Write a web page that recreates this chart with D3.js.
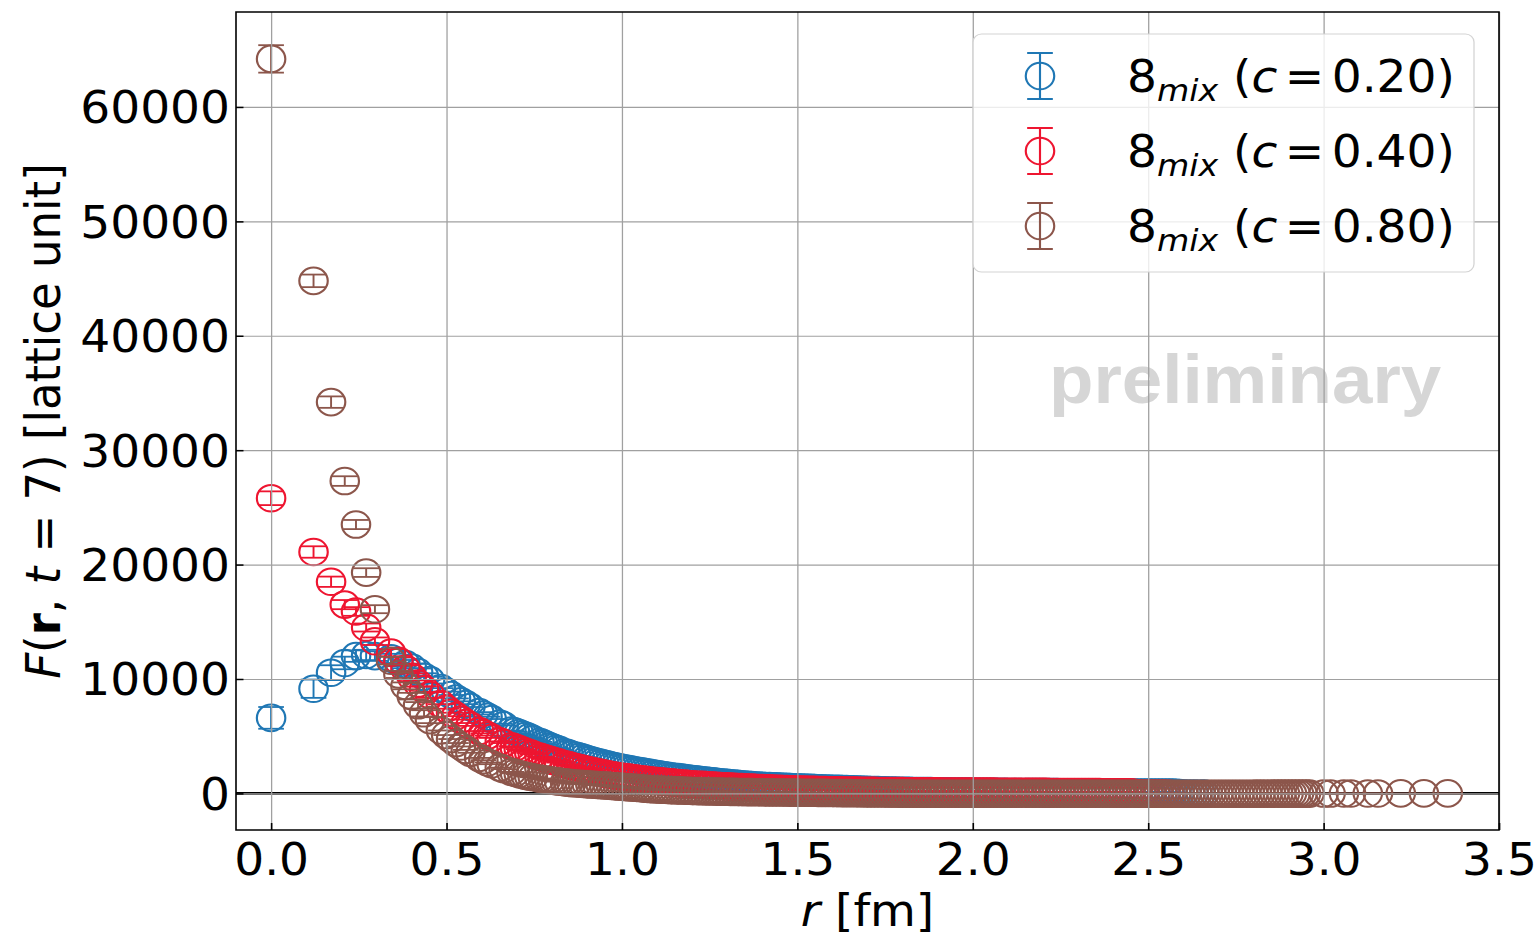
<!DOCTYPE html>
<html>
<head>
<meta charset="utf-8">
<title>F(r, t=7) - 8mix</title>
<script src="https://d3js.org/d3.v7.min.js"></script>
<style>
  body { margin: 0; background: #fff; }
  svg text { font-family: "DejaVu Sans", sans-serif; }
</style>
</head>
<body>
<script>
// r [fm] of the first lattice shells, then the dense band, then the last shells
const rShells = [0, 0.121, 0.171, 0.210, 0.242, 0.271, 0.296,
  0.342, 0.363, 0.383, 0.401, 0.419, 0.436, 0.453,
  0.484, 0.499, 0.513, 0.527, 0.541, 0.555, 0.568,
  0.593, 0.605, 0.617, 0.629, 0.652, 0.663,
  0.685, 0.695, 0.706, 0.716, 0.726, 0.736, 0.746,
  0.765, 0.775, 0.784, 0.794, 0.803, 0.812, 0.821,
  0.838, 0.847, 0.856];
const rBand = [
  0.87, 0.88, 0.89, 0.90, 0.91, 0.92, 0.93, 0.94, 0.95, 0.96,
  0.97, 0.98, 0.99, 1.00, 1.01, 1.02, 1.03, 1.04, 1.05, 1.06,
  1.07, 1.08, 1.09, 1.10, 1.11, 1.12, 1.13, 1.14, 1.15, 1.16,
  1.17, 1.18, 1.19, 1.20, 1.21, 1.22, 1.23, 1.24, 1.25, 1.26,
  1.27, 1.28, 1.29, 1.30, 1.31, 1.32, 1.33, 1.34, 1.35, 1.36,
  1.37, 1.38, 1.39, 1.40, 1.41, 1.42, 1.43, 1.44, 1.45, 1.46,
  1.47, 1.48, 1.49, 1.50, 1.51, 1.52, 1.53, 1.54, 1.55, 1.56,
  1.57, 1.58, 1.59, 1.60, 1.61, 1.62, 1.63, 1.64, 1.65, 1.66,
  1.67, 1.68, 1.69, 1.70, 1.71, 1.72, 1.73, 1.74, 1.75, 1.76,
  1.77, 1.78, 1.79, 1.80, 1.81, 1.82, 1.83, 1.84, 1.85, 1.86,
  1.87, 1.88, 1.89, 1.90, 1.91, 1.92, 1.93, 1.94, 1.95, 1.96,
  1.97, 1.98, 1.99, 2.00, 2.01, 2.02, 2.03, 2.04, 2.05, 2.06,
  2.07, 2.08, 2.09, 2.10, 2.11, 2.12, 2.13, 2.14, 2.15, 2.16,
  2.17, 2.18, 2.19, 2.20, 2.21, 2.22, 2.23, 2.24, 2.25, 2.26,
  2.27, 2.28, 2.29, 2.30, 2.31, 2.32, 2.33, 2.34, 2.35, 2.36,
  2.37, 2.38, 2.39, 2.40, 2.41, 2.42, 2.43, 2.44, 2.45, 2.46,
  2.47, 2.48, 2.49, 2.50, 2.51, 2.52, 2.53, 2.54, 2.55, 2.56,
  2.57, 2.58, 2.59, 2.60, 2.61, 2.62, 2.63, 2.64, 2.65, 2.66,
  2.67, 2.68, 2.69, 2.70, 2.71, 2.72, 2.73, 2.74, 2.75, 2.76,
  2.77, 2.78, 2.79, 2.80, 2.81, 2.82, 2.83, 2.84, 2.85, 2.86,
  2.87, 2.88, 2.89, 2.90, 2.91, 2.92, 2.93, 2.94, 2.95, 2.96];
const rTail = [3.00, 3.02, 3.058, 3.078, 3.126, 3.155, 3.22, 3.286, 3.354];

// c = 0.20
const blueShells = [6600, 9150, 10550, 11400, 12000, 12100, 12000,
  11800, 11500, 11300, 11000, 10600, 10200, 9900,
  9200, 8900, 8600, 8300, 8050, 7800, 7550,
  7100, 6900, 6700, 6500, 6100, 5950,
  5500, 5400, 5270, 5150, 5030, 4900, 4760,
  4500, 4370, 4250, 4120, 4000, 3900, 3800,
  3600, 3500, 3400];
const blueBand = [
  3280, 3190, 3100, 3010, 2920, 2830, 2750, 2670, 2590, 2510,
  2440, 2370, 2300, 2240, 2180, 2120, 2060, 2000, 1950, 1900,
  1850, 1790, 1740, 1690, 1640, 1590, 1550, 1500, 1460, 1420,
  1380, 1340, 1300, 1260, 1230, 1190, 1150, 1120, 1080, 1050,
  1010, 980, 950, 920, 890, 860, 830, 800, 780, 750,
  730, 710, 690, 670, 650, 640, 620, 610, 590, 580,
  570, 560, 540, 530, 520, 505, 490, 478, 466, 455,
  444, 433, 422, 412, 402, 392, 382, 372, 362, 352,
  342, 332, 322, 312, 302, 292, 283, 274, 265, 256,
  248, 241, 234, 228, 223, 218, 214, 210, 206, 202,
  198, 194, 190, 186, 182, 178, 174, 170, 166, 162,
  158, 154, 150, 146, 143, 140, 138, 136, 134, 132,
  130, 128, 129, 126, 124, 125, 122, 120, 121, 118,
  116, 117, 114, 112, 113, 110, 108, 109, 106, 104,
  102, 103, 100, 98, 99, 96, 94, 95, 92, 90,
  90, 88, 89, 86, 85, 86, 84, 83, 84, 82,
  82, 80, 81, 80, 78, 79, 78, 76, 77, 75,
  72, 60, 30, -10, -20, -25, -20, -30, -25, -20];
const blueErr = [950, 800, 650, 550, 500, 450, 420, 400, 380, 360, 340, 320, 300, 290];

// c = 0.40
const redShells = [25800, 21100, 18500, 16500, 15900, 14500, 13300,
  12300, 11600, 10900, 10200, 9600, 9100, 8600,
  7800, 7400, 7050, 6750, 6450, 6150, 5900,
  5450, 5250, 5050, 4850, 4550, 4400,
  4120, 4000, 3870, 3750, 3640, 3530, 3420,
  3220, 3120, 3030, 2940, 2850, 2770, 2690,
  2540, 2470, 2400];
const redBand = [
  2290, 2210, 2130, 2060, 1990, 1920, 1850, 1790, 1730, 1670,
  1610, 1560, 1510, 1460, 1420, 1380, 1340, 1300, 1260, 1220,
  1180, 1150, 1110, 1080, 1050, 1020, 990, 960, 930, 900,
  870, 850, 820, 800, 780, 760, 740, 720, 700, 680,
  660, 645, 630, 610, 595, 580, 565, 550, 535, 520,
  505, 490, 475, 460, 450, 440, 425, 410, 400, 390,
  380, 365, 355, 345, 335, 325, 318, 310, 303, 296,
  290, 284, 278, 272, 267, 262, 257, 252, 247, 243,
  239, 235, 231, 227, 223, 219, 215, 212, 209, 206,
  203, 200, 197, 194, 191, 188, 186, 184, 182, 180,
  178, 176, 174, 172, 170, 168, 166, 165, 164, 163,
  162, 160, 158, 159, 156, 154, 155, 152, 150, 151,
  148, 146, 147, 144, 142, 143, 140, 138, 139, 136,
  134, 135, 132, 130, 131, 128, 126, 127, 124, 122,
  120, 121, 118, 116, 117, 114, 112, 110, 111, 108,
  106, 104, 105, 102, 100, 98, 99, 96, 94, 60,
  0, -20, -25, -20, -30, -20, -25, -20, -30, -25];
const redErr = [600, 500, 450, 400, 380, 350, 330, 310, 300, 290, 280, 270, 260, 250];

// c = 0.80
const brownShells = [64200, 44800, 34200, 27300, 23500, 19300, 16100,
  11600, 10400, 9400, 8500, 7700, 7000, 6400,
  5500, 5100, 4750, 4400, 4100, 3800, 3550,
  3100, 2900, 2700, 2550, 2250, 2120,
  1880, 1780, 1690, 1610, 1540, 1470, 1410,
  1300, 1250, 1200, 1150, 1110, 1070, 1030,
  960, 930, 900];
const brownBand = [
  870, 845, 820, 800, 775, 755, 735, 715, 695, 675,
  650, 625, 600, 578, 556, 534, 512, 490, 465, 435,
  400, 380, 360, 345, 330, 315, 300, 285, 272, 260,
  248, 236, 225, 215, 205, 196, 188, 180, 172, 165,
  158, 152, 146, 140, 135, 130, 125, 120, 116, 112,
  108, 104, 100, 96, 92, 89, 86, 83, 80, 77,
  74, 71, 68, 65, 62, 59, 56, 53, 50, 47,
  44, 41, 38, 35, 32, 29, 26, 23, 20, 17,
  14, 11, 8, 5, 2, 0, -3, -6, -9, -12,
  -14, -16, -18, -20, -22, -24, -25, -26, -27, -28,
  -29, -31, -27, -33, -30, -28, -32, -29, -31, -30,
  -28, -32, -30, -27, -33, -29, -31, -30, -28, -32,
  -30, -27, -33, -29, -31, -30, -28, -32, -29, -31,
  -32, -29, -30, -28, -33, -30, -27, -31, -30, -29,
  -31, -28, -32, -30, -29, -33, -30, -28, -31, -29,
  -30, -32, -28, -31, -29, -30, -33, -27, -30, -31,
  -29, -31, -30, -28, -32, -30, -29, -31, -28, -30,
  -31, -30, -28, -32, -29, -30, -31, -27, -30, -29,
  -28, -30, -31, -29, -32, -30, -28, -30, -27, -29,
  -26, -28, -25, -27, -24, -26, -23, -25, -22, -24,
  -21, -23, -20, -22, -19, -21, -18, -20, -17, -19];
const brownTail = [-15, -12, -10, -8, -6, -5, -3, -2, 0];
const brownErr = [1200, 550, 500, 420, 400, 380, 350, 330, 310, 300, 290, 280, 270, 260];

const cLabels = ["0.20", "0.40", "0.80"];
const colors = ["#1f77b4", "#ee1530", "#8c564b"];
const xTicks = [0, 0.5, 1.0, 1.5, 2.0, 2.5, 3.0, 3.5];
const yTicks = [0, 10000, 20000, 30000, 40000, 50000, 60000];

const rAll = rShells.concat(rBand, rTail);
const series = [
  { v: blueShells.concat(blueBand), e: blueErr },
  { v: redShells.concat(redBand), e: redErr },
  { v: brownShells.concat(brownBand, brownTail), e: brownErr }
];

// the picture is a little wider than tall, so everything is drawn in a stretched group
const sx = 1.07;
const W = 1537, H = 934;
const pl = 236 / sx, pr = 1499 / sx, pt = 12, pb = 830;
const rad = 13.3, cap = 12;

const svg = d3.select("body").append("svg")
  .attr("width", W).attr("height", H);
const g = svg.append("g").attr("transform", `scale(${sx},1)`);

const x = d3.scaleLinear().domain([-0.1, 3.5]).range([pl, pr]);
const y = d3.scaleLinear().domain([-3200, 68300]).range([pb, pt]);

// zero line under the markers
g.append("line")
  .attr("x1", pl).attr("x2", pr)
  .attr("y1", y(0)).attr("y2", y(0))
  .attr("stroke", "#000").attr("stroke-width", 2.8);

series.forEach((s, k) => {
  const pts = s.v.map((v, i) => ({ r: rAll[i], v: v, e: s.e[i] || 0 }));
  const gs = g.append("g")
    .attr("stroke", colors[k]).attr("stroke-width", 1.8).attr("fill", "none");
  gs.selectAll("line.bar").data(pts.filter(p => p.e > 0)).join("line")
    .attr("class", "bar")
    .attr("x1", p => x(p.r)).attr("x2", p => x(p.r))
    .attr("y1", p => y(p.v - p.e)).attr("y2", p => y(p.v + p.e));
  gs.selectAll("line.capt").data(pts).join("line")
    .attr("class", "capt")
    .attr("x1", p => x(p.r) - cap).attr("x2", p => x(p.r) + cap)
    .attr("y1", p => y(p.v + p.e)).attr("y2", p => y(p.v + p.e));
  gs.selectAll("line.capb").data(pts.filter(p => p.e > 0)).join("line")
    .attr("class", "capb")
    .attr("x1", p => x(p.r) - cap).attr("x2", p => x(p.r) + cap)
    .attr("y1", p => y(p.v - p.e)).attr("y2", p => y(p.v - p.e));
  gs.selectAll("circle").data(pts).join("circle")
    .attr("cx", p => x(p.r)).attr("cy", p => y(p.v)).attr("r", rad)
    .attr("stroke-width", 2);
});

// watermark
g.append("text")
  .attr("x", 1049 / sx).attr("y", 403)
  .style("font-family", "'Liberation Sans', Arial, sans-serif")
  .style("font-weight", "bold").style("font-size", "68px")
  .attr("fill", "#d6d6d6")
  .text("preliminary");

// grid on top of the markers
const gridX = g.append("g").attr("transform", `translate(0,${pb})`)
  .call(d3.axisBottom(x).tickValues(xTicks).tickSize(-(pb - pt)).tickFormat(""));
const gridY = g.append("g").attr("transform", `translate(${pl},0)`)
  .call(d3.axisLeft(y).tickValues(yTicks).tickSize(-(pr - pl)).tickFormat(""));
[gridX, gridY].forEach(a => {
  a.select(".domain").remove();
  a.selectAll("line").attr("stroke", "#a0a0a0").attr("stroke-width", 1.2);
});

// axes with inward ticks
const xAxis = g.append("g").attr("transform", `translate(0,${pb})`)
  .call(d3.axisBottom(x).tickValues(xTicks).tickSize(-7).tickPadding(14).tickFormat(d3.format(".1f")));
const yAxis = g.append("g").attr("transform", `translate(${pl},0)`)
  .call(d3.axisLeft(y).tickValues(yTicks).tickSize(-7).tickPadding(5.6).tickFormat(d3.format("d")));
[xAxis, yAxis].forEach(a => {
  a.select(".domain").remove();
  a.attr("font-size", 44);
  a.selectAll("line").attr("stroke", "#000").attr("stroke-width", 1.5);
  a.selectAll("text").attr("fill", "#000");
});
yAxis.selectAll("text").attr("dy", "0.36em");

g.append("rect")
  .attr("x", pl).attr("y", pt)
  .attr("width", pr - pl).attr("height", pb - pt)
  .attr("fill", "none").attr("stroke", "#000").attr("stroke-width", 1.5);

// axis titles
const xl = g.append("text")
  .attr("x", (pl + pr) / 2).attr("y", 926)
  .attr("text-anchor", "middle").attr("font-size", 44);
xl.append("tspan").attr("font-style", "italic").text("r");
xl.append("tspan").text(" [fm]");

const yl = g.append("text")
  .attr("transform", `translate(${60 / sx},421) rotate(-90)`)
  .attr("text-anchor", "middle").attr("font-size", 45);
yl.append("tspan").attr("font-style", "italic").text("F");
yl.append("tspan").text("(");
yl.append("tspan").attr("font-weight", "bold").text("r");
yl.append("tspan").text(", ");
yl.append("tspan").attr("font-style", "italic").text("t");
yl.append("tspan").text(" = 7) [lattice unit]");

// legend
const lg = g.append("g");
lg.append("rect")
  .attr("x", 973 / sx).attr("y", 34)
  .attr("width", (1474 - 973) / sx).attr("height", 238)
  .attr("rx", 8).attr("ry", 8)
  .attr("fill", "#fff").attr("fill-opacity", 0.8)
  .attr("stroke", "#d4d4d4").attr("stroke-width", 1.2);
const rowY = [76, 151, 226];
cLabels.forEach((c, k) => {
  const cy = rowY[k], cx = 1040 / sx;
  const sym = lg.append("g").attr("stroke", colors[k]).attr("stroke-width", 2).attr("fill", "none");
  sym.append("line").attr("x1", cx).attr("x2", cx).attr("y1", cy - 23).attr("y2", cy + 23);
  sym.append("line").attr("x1", cx - cap).attr("x2", cx + cap).attr("y1", cy - 23).attr("y2", cy - 23);
  sym.append("line").attr("x1", cx - cap).attr("x2", cx + cap).attr("y1", cy + 23).attr("y2", cy + 23);
  sym.append("circle").attr("cx", cx).attr("cy", cy).attr("r", rad);
  const t = lg.append("text")
    .attr("x", 1127 / sx).attr("y", cy + 16).attr("font-size", 44);
  t.append("tspan").text("8");
  t.append("tspan").attr("font-style", "italic").attr("font-size", 31).attr("dy", 9).text("mix");
  t.append("tspan").attr("dy", -9).text(" (");
  t.append("tspan").attr("font-style", "italic").text("c");
  t.append("tspan").attr("dx", 7).text("=");
  t.append("tspan").attr("dx", 7).text(c + ")");
});
</script>
</body>
</html>
